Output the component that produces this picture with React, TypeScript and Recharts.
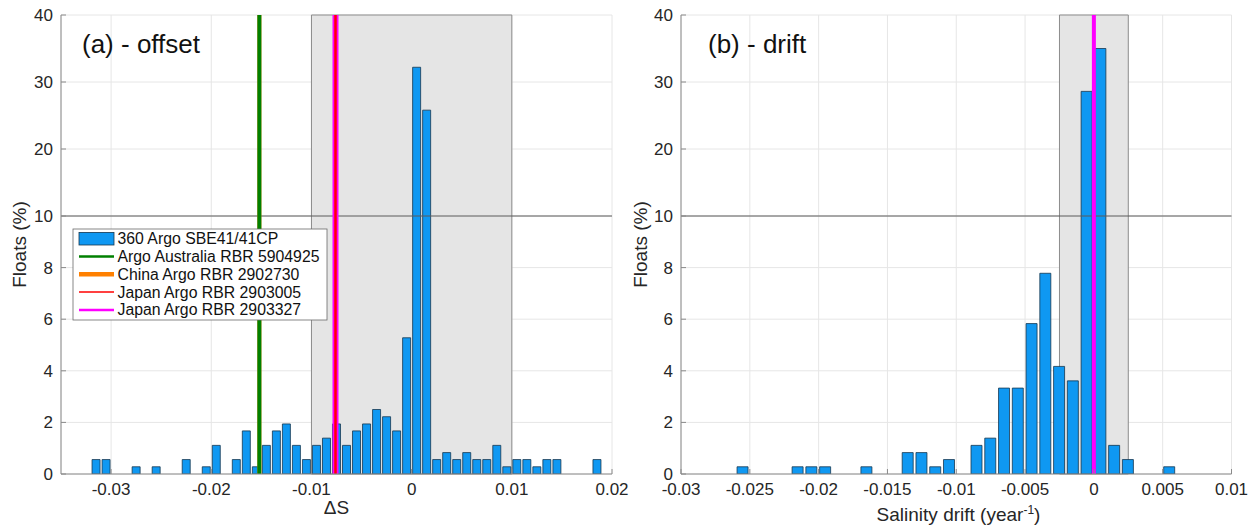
import React from 'react';
import {
  ComposedChart,
  Bar,
  XAxis,
  YAxis,
  CartesianGrid,
  ReferenceLine,
  ReferenceArea,
} from 'recharts';

// ---------------- data ----------------
const offsetBins = [
  -0.0315, -0.0305, -0.0275, -0.0255, -0.0225, -0.0205, -0.0195, -0.0175, -0.0165, -0.0155,
  -0.0145, -0.0135, -0.0125, -0.0115, -0.0105, -0.0095, -0.0085, -0.0075, -0.0065, -0.0055,
  -0.0045, -0.0035, -0.0025, -0.0015, -0.0005, 0.0005, 0.0015, 0.0025, 0.0035, 0.0045,
  0.0055, 0.0065, 0.0075, 0.0085, 0.0095, 0.0105, 0.0115, 0.0125, 0.0135, 0.0145, 0.0185,
];
const offsetPct = [
  0.56, 0.56, 0.28, 0.28, 0.56, 0.28, 1.11, 0.56, 1.67, 0.28,
  1.11, 1.67, 1.94, 1.11, 0.56, 1.11, 1.39, 1.94, 1.11, 1.67,
  1.94, 2.5, 2.22, 1.67, 5.28, 32.2, 25.8, 0.56, 0.83, 0.56,
  0.83, 0.56, 0.56, 1.11, 0.28, 0.56, 0.56, 0.28, 0.56, 0.56, 0.56,
];

const driftBins = [
  -0.0255, -0.0215, -0.0205, -0.0195, -0.0165, -0.0135, -0.0125, -0.0115, -0.0105, -0.0085,
  -0.0075, -0.0065, -0.0055, -0.0045, -0.0035, -0.0025, -0.0015, -0.0005, 0.0005, 0.0015,
  0.0025, 0.0055,
];
const driftPct = [
  0.28, 0.28, 0.28, 0.28, 0.28, 0.83, 0.83, 0.28, 0.56, 1.11,
  1.39, 3.33, 3.33, 5.83, 7.78, 4.17, 3.61, 28.6, 35.0, 1.11,
  0.56, 0.28,
];

const offsetTicks = [-0.03, -0.02, -0.01, 0, 0.01, 0.02];
const driftTicks = [-0.03, -0.025, -0.02, -0.015, -0.01, -0.005, 0, 0.005, 0.01];
const offsetDomain = [-0.035, 0.02];
const driftDomain = [-0.03, 0.01];
const yTickVals = [0, 2, 4, 6, 8, 10, 20, 30, 40];

const offsetBand = [-0.01, 0.01];
const driftBand = [-0.0025, 0.0025];

const legendLabels = [
  '360 Argo SBE41/41CP',
  'Argo Australia RBR 5904925',
  'China Argo RBR 2902730',
  'Japan Argo RBR 2903005',
  'Japan Argo RBR 2903327',
];
const legendColors = ['#0f98f2', '#008000', '#ff8000', '#ff0000', '#ff00ff'];
const legendWidths = [0, 2.5, 4.5, 1.5, 2.5];

const offsetLineX = [-0.0152, -0.0152, -0.0076, -0.0076];
const offsetLineColor = ['#ff8000', '#008000', '#ff00ff', '#ff0000'];
const offsetLineW = [4, 4, 6, 2.5];
const driftLineX = [0];
const driftLineColor = ['#ff00ff'];
const driftLineW = [4];

// ---------------- broken y scale ----------------
const R = 0.2597;
const Y_BREAK = 10;
const brk = (v: number) => (v <= Y_BREAK ? v : Y_BREAK + (v - Y_BREAK) * R);
const Y_TOP = brk(40);
const yTickPos = yTickVals.map(brk);
const yFmt = (t: number) => {
  const i = yTickPos.findIndex((p) => Math.abs(p - t) < 1e-6);
  return i >= 0 ? String(yTickVals[i]) : '';
};
const xFmt = (v: number) => String(parseFloat(Number(v).toFixed(4)));

const FONT = '"Liberation Sans", Arial, Helvetica, sans-serif';
const BAR_FILL = '#0f98f2';
const BAR_EDGE = '#17374f';
const TXT = '#262626';
const AX = '#8a8a8a';

type PanelProps = {
  chartLeft: number;
  chartWidth: number;
  plotLeft: number;
  plotRight: number;
  bins: number[];
  pct: number[];
  domain: number[];
  xTicks: number[];
  band: number[];
  lineX: number[];
  lineColor: string[];
  lineW: number[];
  barSize: number;
  title: string;
  titleX: number;
  yLabelX: number;
  xLabel: React.ReactNode;
};

function Panel(p: PanelProps) {
  const data = p.bins.map((b, i) => ({ x: b, y: brk(p.pct[i]) }));
  const YW = 50;
  const plotTop = 15;
  const plotBottom = 474;
  return (
    <div style={{ position: 'absolute', left: p.chartLeft, top: 0, width: p.chartWidth, height: 528 }}>
      <ComposedChart
        width={p.chartWidth}
        height={528}
        data={data}
        margin={{ top: plotTop, right: p.chartWidth - p.plotRight, bottom: 528 - plotBottom - 30, left: p.plotLeft - YW }}
      >
        <CartesianGrid stroke="#e6e6e6" strokeWidth={1} />
        <XAxis
          dataKey="x"
          type="number"
          domain={p.domain}
          ticks={p.xTicks}
          interval={0}
          allowDataOverflow
          height={30}
          tickSize={-5}
          tickMargin={14}
          tickFormatter={xFmt}
          stroke={AX}
          tick={{ fontSize: 17, fill: TXT, fontFamily: FONT }}
        />
        <XAxis
          xAxisId="top"
          orientation="top"
          type="number"
          domain={p.domain}
          ticks={p.xTicks}
          allowDataOverflow
          height={0}
          tick={false}
          tickSize={-5}
          stroke={AX}
        />
        <YAxis
          type="number"
          domain={[0, Y_TOP]}
          ticks={yTickPos}
          interval={0}
          allowDataOverflow
          width={YW}
          tickSize={-5}
          tickMargin={13}
          tickFormatter={yFmt}
          stroke={AX}
          tick={{ fontSize: 17, fill: TXT, fontFamily: FONT }}
        />
        <YAxis
          yAxisId="right"
          orientation="right"
          type="number"
          domain={[0, Y_TOP]}
          ticks={yTickPos}
          allowDataOverflow
          width={0}
          tick={false}
          tickSize={-5}
          stroke={AX}
        />
        <ReferenceArea
          x1={p.band[0]}
          x2={p.band[1]}
          y1={0}
          y2={Y_TOP}
          fill="#e5e5e5"
          fillOpacity={1}
          stroke="#8c8c8c"
          strokeWidth={1}
        />
        <Bar
          dataKey="y"
          fill={BAR_FILL}
          stroke={BAR_EDGE}
          strokeWidth={0.8}
          barSize={p.barSize}
          isAnimationActive={false}
        />
        <ReferenceLine y={Y_BREAK} stroke="#5a5a5a" strokeWidth={1} />
        {p.lineX.map((x, i) => (
          <ReferenceLine key={i} x={x} stroke={p.lineColor[i]} strokeWidth={p.lineW[i]} />
        ))}
        <text x={p.titleX} y={53} fontSize={26} fontFamily={FONT} fill="#111">
          {p.title}
        </text>
        <text
          x={p.yLabelX}
          y={(plotTop + plotBottom) / 2}
          fontSize={19}
          fontFamily={FONT}
          fill={TXT}
          textAnchor="middle"
          dominantBaseline="central"
          transform={`rotate(-90 ${p.yLabelX} ${(plotTop + plotBottom) / 2})`}
        >
          Floats (%)
        </text>
        {p.xLabel}
      </ComposedChart>
    </div>
  );
}

function LegendOverlay() {
  return (
    <svg
      width={340}
      height={330}
      style={{ position: 'absolute', left: 0, top: 0, pointerEvents: 'none' }}
    >
      <rect x={73} y={229} width={254} height={91} fill="#ffffff" stroke="#6a6a6a" strokeWidth={0.8} />
      {legendLabels.map((lab, i) => {
        const cy = 238.7 + i * 17.8;
        return (
          <g key={i}>
            {legendWidths[i] === 0 ? (
              <rect x={79} y={cy - 6.3} width={35} height={12.6} fill={legendColors[i]} stroke={BAR_EDGE} strokeWidth={0.8} />
            ) : (
              <line x1={79} x2={114} y1={cy} y2={cy} stroke={legendColors[i]} strokeWidth={legendWidths[i]} />
            )}
            <text x={117.5} y={cy} fontSize={15.8} fontFamily={FONT} fill="#111" dominantBaseline="central">
              {lab}
            </text>
          </g>
        );
      })}
    </svg>
  );
}

export default function App() {
  return (
    <div style={{ position: 'absolute', left: 0, top: 0, width: 1258, height: 528, background: '#fff' }}>
      <Panel
        chartLeft={0}
        chartWidth={640}
        plotLeft={61}
        plotRight={612}
        bins={offsetBins}
        pct={offsetPct}
        domain={offsetDomain}
        xTicks={offsetTicks}
        band={offsetBand}
        lineX={offsetLineX}
        lineColor={offsetLineColor}
        lineW={offsetLineW}
        barSize={8}
        title="(a) - offset"
        titleX={82}
        yLabelX={19}
        xLabel={
          <text x={336.5} y={514} fontSize={19} fontFamily={FONT} fill={TXT} textAnchor="middle">
            ΔS
          </text>
        }
      />
      <Panel
        chartLeft={625}
        chartWidth={633}
        plotLeft={56}
        plotRight={606.5}
        bins={driftBins}
        pct={driftPct}
        domain={driftDomain}
        xTicks={driftTicks}
        band={driftBand}
        lineX={driftLineX}
        lineColor={driftLineColor}
        lineW={driftLineW}
        barSize={11}
        title="(b) - drift"
        titleX={83}
        yLabelX={15}
        xLabel={
          <text x={333.5} y={521} fontSize={19} fontFamily={FONT} fill={TXT} textAnchor="middle">
            <tspan>Salinity drift (year</tspan>
            <tspan dy={-7} fontSize={12}>-1</tspan>
            <tspan dy={7}>)</tspan>
          </text>
        }
      />
      <LegendOverlay />
    </div>
  );
}
